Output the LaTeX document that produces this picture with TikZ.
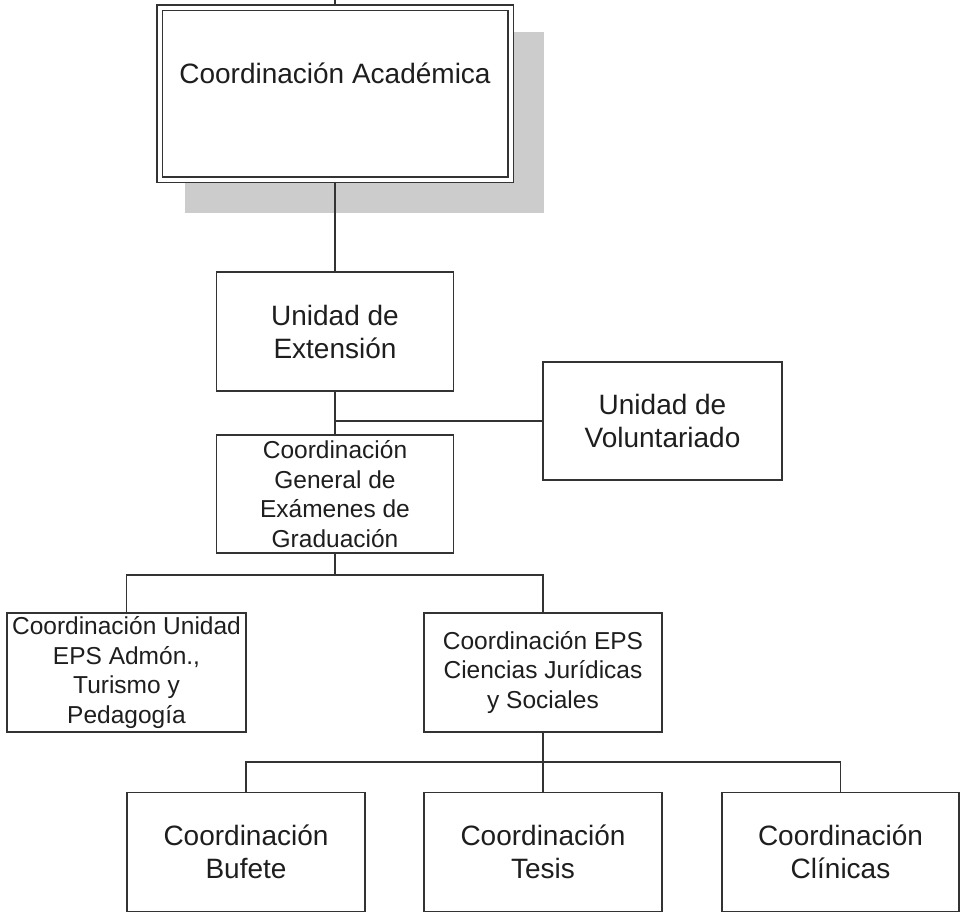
\documentclass[tikz,border=0pt]{standalone}
\usepackage{fontspec}
\setmainfont{Liberation Sans}
\usetikzlibrary{backgrounds}
\definecolor{linec}{HTML}{333333}
\definecolor{textc}{HTML}{1E1E1E}
\definecolor{shadowc}{HTML}{CCCCCC}
\begin{document}
\begin{tikzpicture}[x=1pt,y=-1pt,
  box/.style={draw=linec, line width=1.6pt, fill=white, inner sep=0pt, align=center, text=textc},
  big/.style={font=\fontsize{28}{33}\selectfont},
  small/.style={font=\fontsize{24.5}{29.5}\selectfont},
  conn/.style={draw=linec, line width=1.6pt}]
\useasboundingbox (0,0) rectangle (960,913);
% top box (double border)
\node[draw=linec, line width=1.5pt, double=white, double distance=4pt, fill=white,
      minimum width=351pt, minimum height=172pt, inner sep=0pt] (acad) at (335,93.5) {};
\node[anchor=base, big, text=textc, inner sep=0pt] (acadtext) at (335,83) {Coordinación Académica};
% boxes
\node[box, big, minimum width=237pt, minimum height=119pt] (ext) at (335,331.5) {Unidad de\\Extensión};
\node[box, big, minimum width=239pt, minimum height=118pt] (vol) at (662.5,421) {Unidad de\\Voluntariado};
\node[box, small, minimum width=237pt, minimum height=118pt] (gen) at (335,494) {Coordinación\\General de\\Exámenes de\\Graduación};
\node[box, small, minimum width=239pt, minimum height=119pt] (uni) at (126.5,672.5) {Coordinación Unidad\\EPS Admón.,\\Turismo y\\Pedagogía};
\node[box, small, minimum width=238pt, minimum height=119pt] (eps) at (543,672.5) {Coordinación EPS\\Ciencias Jurídicas\\y Sociales};
\node[box, big, minimum width=238pt, minimum height=119pt] (buf) at (246,852) {Coordinación\\Bufete};
\node[box, big, minimum width=238pt, minimum height=119pt] (tes) at (543,852) {Coordinación\\Tesis};
\node[box, big, minimum width=237pt, minimum height=119pt] (cli) at (840.5,852) {Coordinación\\Clínicas};
\begin{pgfonlayer}{background}
\fill[shadowc] (185,32) rectangle (544,213);
\coordinate (topend) at (335,0);
\draw[conn] (topend) -- (acad.north);
\draw[conn] (acad.south) -- (ext.north);
\draw[conn] (ext.south) -- (gen.north);
\draw[conn] (vol.west) -- (vol.west -| ext.south);
\coordinate (bus1) at (335,575);
\draw[conn] (gen.south) -- (bus1);
\draw[conn] (uni.north) -- (uni.north |- bus1) -- (eps.north |- bus1) -- (eps.north);
\coordinate (bus2) at (543,762);
\draw[conn] (eps.south) -- (tes.north);
\draw[conn] (buf.north) -- (buf.north |- bus2) -- (cli.north |- bus2) -- (cli.north);
\end{pgfonlayer}
\end{tikzpicture}
\end{document}
